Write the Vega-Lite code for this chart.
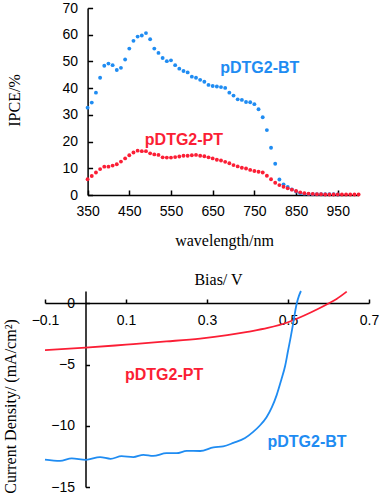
{
  "$schema": "https://vega.github.io/schema/vega-lite/v6.json",
  "width": 381,
  "height": 494,
  "autosize": "none",
  "padding": 0,
  "background": "white",
  "config": {
    "view": {"stroke": null},
    "axis": {
      "grid": false,
      "domainColor": "black",
      "domainWidth": 1.5,
      "tickColor": "black",
      "tickWidth": 1.5,
      "labelFont": "Liberation Sans",
      "labelFontSize": 14,
      "labelColor": "black",
      "labelFlush": false,
      "labelOverlap": false,
      "titleFont": "Liberation Serif",
      "titleFontWeight": "normal",
      "titleFontSize": 16,
      "titleColor": "black"
    },
    "text": {"font": "Liberation Sans", "fontWeight": "bold", "fontSize": 16}
  },
  "datasets": {
    "ipce": [
      {"wavelength": 350, "ipce": 32.7, "polymer": "BT"},
      {"wavelength": 360, "ipce": 34.6, "polymer": "BT"},
      {"wavelength": 370, "ipce": 38.3, "polymer": "BT"},
      {"wavelength": 380, "ipce": 43.9, "polymer": "BT"},
      {"wavelength": 390, "ipce": 48.4, "polymer": "BT"},
      {"wavelength": 400, "ipce": 49.2, "polymer": "BT"},
      {"wavelength": 410, "ipce": 48.6, "polymer": "BT"},
      {"wavelength": 420, "ipce": 46.8, "polymer": "BT"},
      {"wavelength": 430, "ipce": 47.6, "polymer": "BT"},
      {"wavelength": 440, "ipce": 50.7, "polymer": "BT"},
      {"wavelength": 450, "ipce": 54.8, "polymer": "BT"},
      {"wavelength": 460, "ipce": 57.7, "polymer": "BT"},
      {"wavelength": 470, "ipce": 59.3, "polymer": "BT"},
      {"wavelength": 480, "ipce": 59.7, "polymer": "BT"},
      {"wavelength": 490, "ipce": 60.6, "polymer": "BT"},
      {"wavelength": 500, "ipce": 58.3, "polymer": "BT"},
      {"wavelength": 510, "ipce": 54.8, "polymer": "BT"},
      {"wavelength": 520, "ipce": 53.2, "polymer": "BT"},
      {"wavelength": 530, "ipce": 51.3, "polymer": "BT"},
      {"wavelength": 540, "ipce": 50.1, "polymer": "BT"},
      {"wavelength": 550, "ipce": 50.4, "polymer": "BT"},
      {"wavelength": 560, "ipce": 48.6, "polymer": "BT"},
      {"wavelength": 570, "ipce": 47.3, "polymer": "BT"},
      {"wavelength": 580, "ipce": 46.4, "polymer": "BT"},
      {"wavelength": 590, "ipce": 45.9, "polymer": "BT"},
      {"wavelength": 600, "ipce": 44.3, "polymer": "BT"},
      {"wavelength": 610, "ipce": 43.9, "polymer": "BT"},
      {"wavelength": 620, "ipce": 43.1, "polymer": "BT"},
      {"wavelength": 630, "ipce": 42.4, "polymer": "BT"},
      {"wavelength": 640, "ipce": 41.2, "polymer": "BT"},
      {"wavelength": 650, "ipce": 40.8, "polymer": "BT"},
      {"wavelength": 660, "ipce": 40.6, "polymer": "BT"},
      {"wavelength": 670, "ipce": 40.4, "polymer": "BT"},
      {"wavelength": 680, "ipce": 40.1, "polymer": "BT"},
      {"wavelength": 690, "ipce": 38.3, "polymer": "BT"},
      {"wavelength": 700, "ipce": 37.2, "polymer": "BT"},
      {"wavelength": 710, "ipce": 35.8, "polymer": "BT"},
      {"wavelength": 720, "ipce": 35.6, "polymer": "BT"},
      {"wavelength": 730, "ipce": 34.8, "polymer": "BT"},
      {"wavelength": 740, "ipce": 34.7, "polymer": "BT"},
      {"wavelength": 750, "ipce": 34.0, "polymer": "BT"},
      {"wavelength": 760, "ipce": 32.1, "polymer": "BT"},
      {"wavelength": 770, "ipce": 29.1, "polymer": "BT"},
      {"wavelength": 780, "ipce": 24.3, "polymer": "BT"},
      {"wavelength": 790, "ipce": 17.7, "polymer": "BT"},
      {"wavelength": 800, "ipce": 11.7, "polymer": "BT"},
      {"wavelength": 810, "ipce": 5.8, "polymer": "BT"},
      {"wavelength": 820, "ipce": 4.0, "polymer": "BT"},
      {"wavelength": 830, "ipce": 3.0, "polymer": "BT"},
      {"wavelength": 840, "ipce": 2.1, "polymer": "BT"},
      {"wavelength": 850, "ipce": 1.3, "polymer": "BT"},
      {"wavelength": 860, "ipce": 0.7, "polymer": "BT"},
      {"wavelength": 870, "ipce": 0.5, "polymer": "BT"},
      {"wavelength": 880, "ipce": 0.4, "polymer": "BT"},
      {"wavelength": 890, "ipce": 0.3, "polymer": "BT"},
      {"wavelength": 900, "ipce": 0.3, "polymer": "BT"},
      {"wavelength": 910, "ipce": 0.3, "polymer": "BT"},
      {"wavelength": 920, "ipce": 0.3, "polymer": "BT"},
      {"wavelength": 930, "ipce": 0.3, "polymer": "BT"},
      {"wavelength": 940, "ipce": 0.3, "polymer": "BT"},
      {"wavelength": 950, "ipce": 0.2, "polymer": "BT"},
      {"wavelength": 350, "ipce": 5.9, "polymer": "PT"},
      {"wavelength": 360, "ipce": 7.1, "polymer": "PT"},
      {"wavelength": 370, "ipce": 8.4, "polymer": "PT"},
      {"wavelength": 380, "ipce": 9.7, "polymer": "PT"},
      {"wavelength": 390, "ipce": 10.6, "polymer": "PT"},
      {"wavelength": 400, "ipce": 10.6, "polymer": "PT"},
      {"wavelength": 410, "ipce": 11.0, "polymer": "PT"},
      {"wavelength": 420, "ipce": 11.5, "polymer": "PT"},
      {"wavelength": 430, "ipce": 12.5, "polymer": "PT"},
      {"wavelength": 440, "ipce": 13.7, "polymer": "PT"},
      {"wavelength": 450, "ipce": 14.9, "polymer": "PT"},
      {"wavelength": 460, "ipce": 15.9, "polymer": "PT"},
      {"wavelength": 470, "ipce": 16.6, "polymer": "PT"},
      {"wavelength": 480, "ipce": 16.4, "polymer": "PT"},
      {"wavelength": 490, "ipce": 16.4, "polymer": "PT"},
      {"wavelength": 500, "ipce": 15.6, "polymer": "PT"},
      {"wavelength": 510, "ipce": 15.2, "polymer": "PT"},
      {"wavelength": 520, "ipce": 15.0, "polymer": "PT"},
      {"wavelength": 530, "ipce": 14.1, "polymer": "PT"},
      {"wavelength": 540, "ipce": 14.0, "polymer": "PT"},
      {"wavelength": 550, "ipce": 14.0, "polymer": "PT"},
      {"wavelength": 560, "ipce": 14.2, "polymer": "PT"},
      {"wavelength": 570, "ipce": 14.4, "polymer": "PT"},
      {"wavelength": 580, "ipce": 14.7, "polymer": "PT"},
      {"wavelength": 590, "ipce": 14.7, "polymer": "PT"},
      {"wavelength": 600, "ipce": 14.9, "polymer": "PT"},
      {"wavelength": 610, "ipce": 15.0, "polymer": "PT"},
      {"wavelength": 620, "ipce": 14.7, "polymer": "PT"},
      {"wavelength": 630, "ipce": 14.5, "polymer": "PT"},
      {"wavelength": 640, "ipce": 14.1, "polymer": "PT"},
      {"wavelength": 650, "ipce": 13.7, "polymer": "PT"},
      {"wavelength": 660, "ipce": 13.2, "polymer": "PT"},
      {"wavelength": 670, "ipce": 12.9, "polymer": "PT"},
      {"wavelength": 680, "ipce": 12.4, "polymer": "PT"},
      {"wavelength": 690, "ipce": 11.9, "polymer": "PT"},
      {"wavelength": 700, "ipce": 11.2, "polymer": "PT"},
      {"wavelength": 710, "ipce": 10.7, "polymer": "PT"},
      {"wavelength": 720, "ipce": 10.2, "polymer": "PT"},
      {"wavelength": 730, "ipce": 9.9, "polymer": "PT"},
      {"wavelength": 740, "ipce": 9.4, "polymer": "PT"},
      {"wavelength": 750, "ipce": 9.0, "polymer": "PT"},
      {"wavelength": 760, "ipce": 8.7, "polymer": "PT"},
      {"wavelength": 770, "ipce": 8.4, "polymer": "PT"},
      {"wavelength": 780, "ipce": 7.2, "polymer": "PT"},
      {"wavelength": 790, "ipce": 5.9, "polymer": "PT"},
      {"wavelength": 800, "ipce": 4.6, "polymer": "PT"},
      {"wavelength": 810, "ipce": 3.7, "polymer": "PT"},
      {"wavelength": 820, "ipce": 3.1, "polymer": "PT"},
      {"wavelength": 830, "ipce": 2.5, "polymer": "PT"},
      {"wavelength": 840, "ipce": 2.0, "polymer": "PT"},
      {"wavelength": 850, "ipce": 1.5, "polymer": "PT"},
      {"wavelength": 860, "ipce": 1.0, "polymer": "PT"},
      {"wavelength": 870, "ipce": 0.7, "polymer": "PT"},
      {"wavelength": 880, "ipce": 0.5, "polymer": "PT"},
      {"wavelength": 890, "ipce": 0.4, "polymer": "PT"},
      {"wavelength": 900, "ipce": 0.3, "polymer": "PT"},
      {"wavelength": 910, "ipce": 0.3, "polymer": "PT"},
      {"wavelength": 920, "ipce": 0.2, "polymer": "PT"},
      {"wavelength": 930, "ipce": 0.2, "polymer": "PT"},
      {"wavelength": 940, "ipce": 0.2, "polymer": "PT"},
      {"wavelength": 950, "ipce": 0.2, "polymer": "PT"},
      {"wavelength": 960, "ipce": 0.2, "polymer": "PT"},
      {"wavelength": 970, "ipce": 0.2, "polymer": "PT"},
      {"wavelength": 980, "ipce": 0.2, "polymer": "PT"},
      {"wavelength": 990, "ipce": 0.2, "polymer": "PT"},
      {"wavelength": 1000, "ipce": 0.2, "polymer": "PT"}
    ],
    "ipceLabels": [
      {"wavelength": 763, "ipce": 47.7, "polymer": "BT", "label": "pDTG2-BT"},
      {"wavelength": 581, "ipce": 20.7, "polymer": "PT", "label": "pDTG2-PT"}
    ],
    "jv": [
      {"bias": -0.1, "current": -3.82, "polymer": "PT"},
      {"bias": 0.0, "current": -3.63, "polymer": "PT"},
      {"bias": 0.1, "current": -3.38, "polymer": "PT"},
      {"bias": 0.2, "current": -3.12, "polymer": "PT"},
      {"bias": 0.283, "current": -2.88, "polymer": "PT"},
      {"bias": 0.35, "current": -2.6, "polymer": "PT"},
      {"bias": 0.4, "current": -2.33, "polymer": "PT"},
      {"bias": 0.45, "current": -2.02, "polymer": "PT"},
      {"bias": 0.5, "current": -1.55, "polymer": "PT"},
      {"bias": 0.54, "current": -1.0, "polymer": "PT"},
      {"bias": 0.575, "current": -0.45, "polymer": "PT"},
      {"bias": 0.6, "current": -0.02, "polymer": "PT"},
      {"bias": 0.62, "current": 0.35, "polymer": "PT"},
      {"bias": 0.645, "current": 0.95, "polymer": "PT"},
      {"bias": -0.1, "current": -12.76, "polymer": "BT"},
      {"bias": -0.063, "current": -12.86, "polymer": "BT"},
      {"bias": -0.034, "current": -12.66, "polymer": "BT"},
      {"bias": 0.001, "current": -12.78, "polymer": "BT"},
      {"bias": 0.036, "current": -12.56, "polymer": "BT"},
      {"bias": 0.062, "current": -12.7, "polymer": "BT"},
      {"bias": 0.089, "current": -12.48, "polymer": "BT"},
      {"bias": 0.118, "current": -12.56, "polymer": "BT"},
      {"bias": 0.143, "current": -12.37, "polymer": "BT"},
      {"bias": 0.167, "current": -12.46, "polymer": "BT"},
      {"bias": 0.2, "current": -12.24, "polymer": "BT"},
      {"bias": 0.225, "current": -12.24, "polymer": "BT"},
      {"bias": 0.25, "current": -12.05, "polymer": "BT"},
      {"bias": 0.283, "current": -12.06, "polymer": "BT"},
      {"bias": 0.316, "current": -11.76, "polymer": "BT"},
      {"bias": 0.34, "current": -11.68, "polymer": "BT"},
      {"bias": 0.365, "current": -11.4, "polymer": "BT"},
      {"bias": 0.394, "current": -11.0, "polymer": "BT"},
      {"bias": 0.414, "current": -10.5, "polymer": "BT"},
      {"bias": 0.43, "current": -10.0, "polymer": "BT"},
      {"bias": 0.447, "current": -9.3, "polymer": "BT"},
      {"bias": 0.46, "current": -8.5, "polymer": "BT"},
      {"bias": 0.472, "current": -7.5, "polymer": "BT"},
      {"bias": 0.483, "current": -6.3, "polymer": "BT"},
      {"bias": 0.493, "current": -5.1, "polymer": "BT"},
      {"bias": 0.5, "current": -3.9, "polymer": "BT"},
      {"bias": 0.507, "current": -2.7, "polymer": "BT"},
      {"bias": 0.513, "current": -1.6, "polymer": "BT"},
      {"bias": 0.521, "current": -0.1, "polymer": "BT"},
      {"bias": 0.527, "current": 0.6, "polymer": "BT"},
      {"bias": 0.532, "current": 1.0, "polymer": "BT"}
    ],
    "jvLabels": [
      {"bias": 0.194, "current": -5.85, "polymer": "PT", "label": "pDTG2-PT"},
      {"bias": 0.547, "current": -11.34, "polymer": "BT", "label": "pDTG2-BT"}
    ]
  },
  "layer": [
    {
      "layer": [
        {
          "data": {"name": "ipce"},
          "mark": {"type": "circle", "size": 15, "opacity": 1},
          "encoding": {
            "x": {"field": "wavelength", "type": "quantitative",
              "scale": {"domain": [350, 1000], "range": [87.6, 358.6], "nice": false, "zero": false},
              "axis": {"orient": "bottom", "offset": -299, "values": [350, 450, 550, 650, 750, 850, 950],
                "tickSize": -5, "labelPadding": 14, "title": "wavelength/nm",
                "titleX": 224, "titleY": 45, "titleBaseline": "middle", "titleAnchor": null}},
            "y": {"field": "ipce", "type": "quantitative",
              "scale": {"domain": [0, 70], "range": [195, 8], "nice": false},
              "axis": {"orient": "left", "offset": -87.6, "values": [0, 10, 20, 30, 40, 50, 60, 70],
                "tickSize": -5, "labelPadding": 15, "title": "IPCE/%",
                "titleX": -73.6, "titleY": 100, "titleBaseline": "middle"}},
            "color": {"field": "polymer", "type": "nominal",
              "scale": {"domain": ["BT", "PT"], "range": ["#1f8cf2", "#fb1e35"]}, "legend": null}
          }
        },
        {
          "data": {"name": "ipceLabels"},
          "mark": {"type": "text", "align": "center", "baseline": "middle"},
          "encoding": {
            "x": {"field": "wavelength", "type": "quantitative"},
            "y": {"field": "ipce", "type": "quantitative"},
            "text": {"field": "label"},
            "color": {"field": "polymer", "type": "nominal", "legend": null}
          }
        }
      ]
    },
    {
      "layer": [
        {
          "data": {"name": "jv"},
          "mark": {"type": "line", "interpolate": "monotone", "strokeWidth": 1.8},
          "encoding": {
            "x": {"field": "bias", "type": "quantitative",
              "scale": {"domain": [-0.1, 0.7], "range": [45, 369], "nice": false, "zero": false},
              "axis": {"orient": "bottom", "offset": -191, "values": [-0.1, 0.1, 0.3, 0.5, 0.7], "format": ".1f",
                "tickSize": -4, "labelPadding": 14, "title": "Bias/ V",
                "titleX": 218, "titleY": -16, "titleBaseline": "bottom"}},
            "y": {"field": "current", "type": "quantitative",
              "scale": {"domain": [-15, 1], "range": [487, 291], "nice": false, "zero": false},
              "axis": {"orient": "left", "offset": -85.5, "values": [0, -5, -10, -15],
                "tickSize": -4, "labelPadding": 15, "title": "Current Density/ (mA/cm²)",
                "titleX": -75, "titleY": 406, "titleBaseline": "middle"}},
            "color": {"field": "polymer", "type": "nominal", "legend": null}
          }
        },
        {
          "data": {"name": "jvLabels"},
          "mark": {"type": "text", "align": "center", "baseline": "middle"},
          "encoding": {
            "x": {"field": "bias", "type": "quantitative"},
            "y": {"field": "current", "type": "quantitative"},
            "text": {"field": "label"},
            "color": {"field": "polymer", "type": "nominal", "legend": null}
          }
        }
      ]
    }
  ],
  "resolve": {
    "scale": {"x": "independent", "y": "independent"},
    "axis": {"x": "independent", "y": "independent"}
  }
}
